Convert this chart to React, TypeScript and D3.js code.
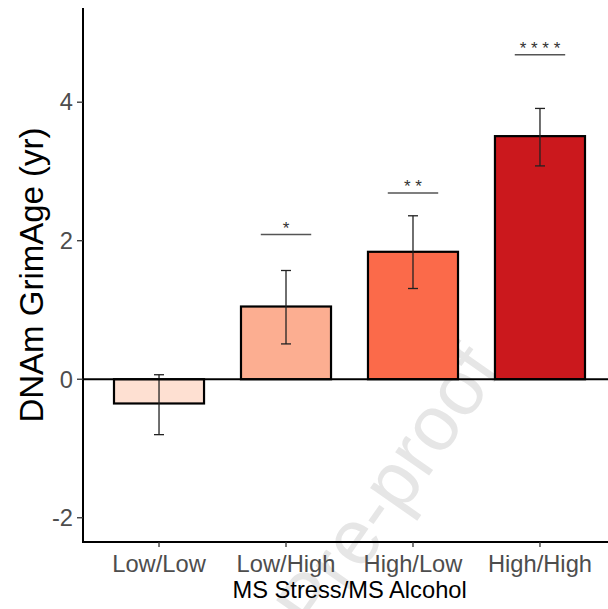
import React from "react";
import * as d3 from "d3";

const categories = ["Low/Low", "Low/High", "High/Low", "High/High"];
const means = [-0.35, 1.05, 1.84, 3.51];
const lower = [-0.8, 0.51, 1.31, 3.08];
const upper = [0.065, 1.57, 2.36, 3.91];
const fills = ["#FEE0D2", "#FCAE91", "#FB6A4A", "#CB181D"];
const sigLabels = ["", "*", "* *", "* * * *"];
const sigY = [NaN, 2.09, 2.69, 4.685];
const yTicks = [-2, 0, 2, 4];

const W = 608;
const H = 609;

export default function App() {
  const left = 83;
  const right = 616.2;
  const top = 8;
  const bottom = 542;
  const x = d3
    .scaleBand<string>()
    .domain(categories)
    .range([left - 0.2, right])
    .paddingInner(0.291)
    .paddingOuter(0.2457);
  const y = d3.scaleLinear().domain([-2.35, 5.36]).range([bottom, top]);
  const bw = x.bandwidth();
  const font = "'Liberation Sans', Arial, sans-serif";

  return (
    <svg
      width={W}
      height={H}
      viewBox={`0 0 ${W} ${H}`}
      style={{ position: "absolute", left: 0, top: 0, background: "#fff" }}
    >
      <rect x={0} y={0} width={W} height={H} fill="#fff" />
      {/* watermark */}
      <text
        transform="translate(503,370) rotate(-55)"
        textAnchor="end"
        fontFamily={font}
        fontSize={78}
        fill="#e6e6e6"
      >
        Journal Pre-proof
      </text>
      {/* bars */}
      {categories.map((c, i) => {
        const y0 = y(0);
        const y1 = y(means[i]);
        return (
          <rect
            key={c}
            x={x(c)!}
            y={Math.min(y0, y1)}
            width={bw}
            height={Math.abs(y1 - y0)}
            fill={fills[i]}
            stroke="#000"
            strokeWidth={2.2}
          />
        );
      })}
      {/* error bars */}
      {categories.map((c, i) => {
        const cx = x(c)! + bw / 2;
        return (
          <g key={c} stroke="#222" strokeWidth={1.3}>
            <line x1={cx} x2={cx} y1={y(lower[i])} y2={y(upper[i])} />
            <line x1={cx - 5} x2={cx + 5} y1={y(lower[i])} y2={y(lower[i])} />
            <line x1={cx - 5} x2={cx + 5} y1={y(upper[i])} y2={y(upper[i])} />
          </g>
        );
      })}
      {/* zero line */}
      <line x1={left} x2={W} y1={y(0)} y2={y(0)} stroke="#000" strokeWidth={2} />
      {/* significance */}
      {categories.map((c, i) => {
        if (!sigLabels[i]) return null;
        const cx = x(c)! + bw / 2;
        const yy = y(sigY[i]);
        return (
          <g key={c}>
            <line
              x1={cx - bw * 0.28}
              x2={cx + bw * 0.28}
              y1={yy}
              y2={yy}
              stroke="#555"
              strokeWidth={1.6}
            />
            <text
              x={cx}
              y={yy - 0.5}
              textAnchor="middle"
              fontFamily={font}
              fontSize={17}
              fill="#333"
            >
              {sigLabels[i]}
            </text>
          </g>
        );
      })}
      {/* axes */}
      <line x1={left} x2={left} y1={top} y2={bottom + 1} stroke="#000" strokeWidth={2} />
      <line x1={left - 1} x2={W} y1={bottom} y2={bottom} stroke="#000" strokeWidth={2} />
      {yTicks.map((t) => (
        <g key={t}>
          <line x1={left - 6} x2={left} y1={y(t)} y2={y(t)} stroke="#333" strokeWidth={1.3} />
          <text
            x={left - 10}
            y={y(t)}
            dy="0.35em"
            textAnchor="end"
            fontFamily={font}
            fontSize={23.7}
            fill="#4d4d4d"
          >
            {t}
          </text>
        </g>
      ))}
      {categories.map((c) => {
        const cx = x(c)! + bw / 2;
        return (
          <g key={c}>
            <line x1={cx} x2={cx} y1={bottom} y2={bottom + 5} stroke="#333" strokeWidth={1.3} />
            <text
              x={cx}
              y={572}
              textAnchor="middle"
              fontFamily={font}
              fontSize={23.7}
              fill="#4d4d4d"
            >
              {c}
            </text>
          </g>
        );
      })}
      <text
        x={(left + right) / 2}
        y={598}
        textAnchor="middle"
        fontFamily={font}
        fontSize={23.7}
        fill="#000"
      >
        MS Stress/MS Alcohol
      </text>
      <text
        transform={`translate(43,${(top + bottom) / 2}) rotate(-90)`}
        textAnchor="middle"
        fontFamily={font}
        fontSize={33}
        fill="#000"
      >
        DNAm GrimAge (yr)
      </text>
    </svg>
  );
}
